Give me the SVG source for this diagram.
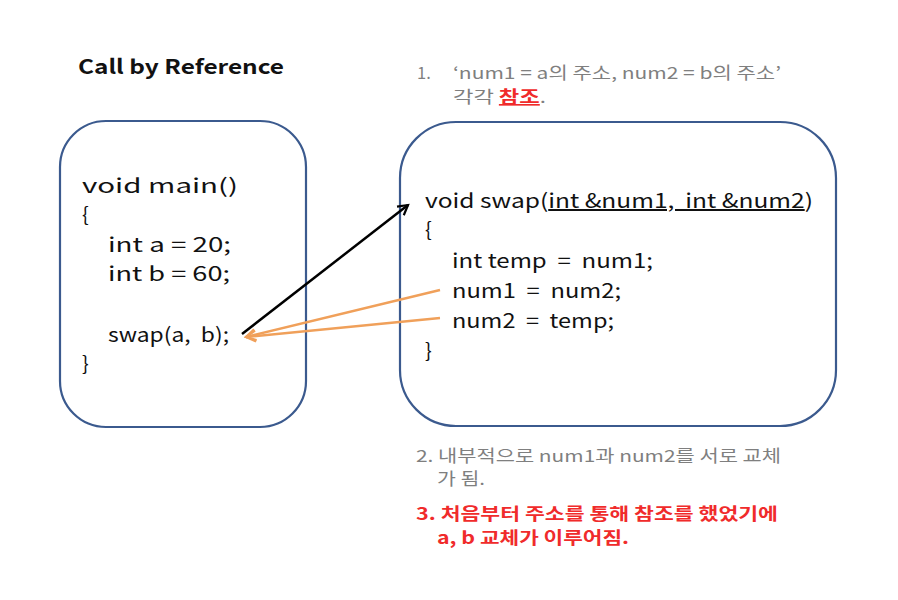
<svg xmlns="http://www.w3.org/2000/svg" width="898" height="600" viewBox="0 0 898 600">
<defs>
<style>
.box{fill:#fff;stroke:#3B5A8E;stroke-width:2.2}
.code{font-family:"Noto Sans CJK KR","Noto Sans",sans-serif;font-size:20px;fill:#111;white-space:pre}
.title{font-family:"Noto Sans CJK KR","Noto Sans",sans-serif;font-size:20px;font-weight:bold;fill:#111}
.note{font-family:"Noto Sans CJK KR","Noto Sans",sans-serif;font-size:16.5px;fill:#7F7F7F}
.red{font-family:"Noto Sans CJK KR","Noto Sans",sans-serif;font-size:16.5px;font-weight:bold;fill:#F02B2B}
.blk{stroke:#000;stroke-width:2.5;fill:none}
.org{stroke:#F0A05A;stroke-width:2.5;fill:none}
</style>
<marker id="ab" viewBox="0 0 10 10" refX="8" refY="5" markerWidth="5.5" markerHeight="5.5" orient="auto" markerUnits="strokeWidth">
<path d="M1,1 L8,5 L1,9" fill="none" stroke="#000" stroke-width="1.6"/>
</marker>
<marker id="ao" viewBox="0 0 10 10" refX="8" refY="5" markerWidth="5.5" markerHeight="5.5" orient="auto" markerUnits="strokeWidth">
<path d="M1,1 L8,5 L1,9" fill="none" stroke="#F0A05A" stroke-width="1.6"/>
</marker>
</defs>
<rect width="898" height="600" fill="#fff"/>

<g id="title">
<text class="title" x="78" y="74" textLength="206" lengthAdjust="spacingAndGlyphs">Call by Reference</text>
</g>

<g id="note1">
<text class="note" x="417" y="79">1.</text>
<text class="note" x="453" y="79" textLength="328" lengthAdjust="spacingAndGlyphs">‘num1 = a의 주소, num2 = b의 주소’</text>
<text class="note" x="453" y="103" textLength="93" lengthAdjust="spacingAndGlyphs">각각 <tspan fill="#F02B2B" font-weight="bold" text-decoration="underline">참조</tspan>.</text>
</g>

<g id="main-box">
<rect class="box" x="60" y="121" width="246" height="306" rx="46" ry="46"/>
<text class="code" x="82" y="193" textLength="156" lengthAdjust="spacingAndGlyphs">void main()</text>
<text class="code" x="82" y="222">{</text>
<text class="code" x="108" y="252" textLength="123" lengthAdjust="spacingAndGlyphs">int a = 20;</text>
<text class="code" x="108" y="281" textLength="122" lengthAdjust="spacingAndGlyphs">int b = 60;</text>
<text class="code" x="108" y="342" textLength="121" lengthAdjust="spacingAndGlyphs">swap(a,  b);</text>
<text class="code" x="82" y="371">}</text>
</g>

<g id="swap-box">
<rect class="box" x="400" y="122" width="436" height="304" rx="56" ry="56"/>
<text class="code" x="425" y="208" textLength="388" lengthAdjust="spacingAndGlyphs">void swap(<tspan text-decoration="underline">int &amp;num1,  int &amp;num2</tspan>)</text>
<text class="code" x="425" y="237">{</text>
<text class="code" x="452" y="268" textLength="201" lengthAdjust="spacingAndGlyphs">int temp  =  num1;</text>
<text class="code" x="452" y="298" textLength="169" lengthAdjust="spacingAndGlyphs">num1  =  num2;</text>
<text class="code" x="452" y="328" textLength="162" lengthAdjust="spacingAndGlyphs">num2  =  temp;</text>
<text class="code" x="425" y="358">}</text>
</g>

<g id="note2">
<text class="note" x="416" y="462" textLength="365" lengthAdjust="spacingAndGlyphs">2. 내부적으로 num1과 num2를 서로 교체</text>
<text class="note" x="437" y="485" textLength="48" lengthAdjust="spacingAndGlyphs">가 됨.</text>
</g>

<g id="note3">
<text class="red" x="416" y="520" textLength="362" lengthAdjust="spacingAndGlyphs">3. 처음부터 주소를 통해 참조를 했었기에</text>
<text class="red" x="437" y="544" textLength="192" lengthAdjust="spacingAndGlyphs">a, b 교체가 이루어짐.</text>
</g>

<g id="connectors">
<line class="blk" x1="242" y1="334" x2="408" y2="205" marker-end="url(#ab)"/>
<line class="org" x1="440" y1="290" x2="246" y2="337" marker-end="url(#ao)"/>
<line class="org" x1="440" y1="318" x2="246" y2="337" marker-end="url(#ao)"/>
</g>
</svg>
